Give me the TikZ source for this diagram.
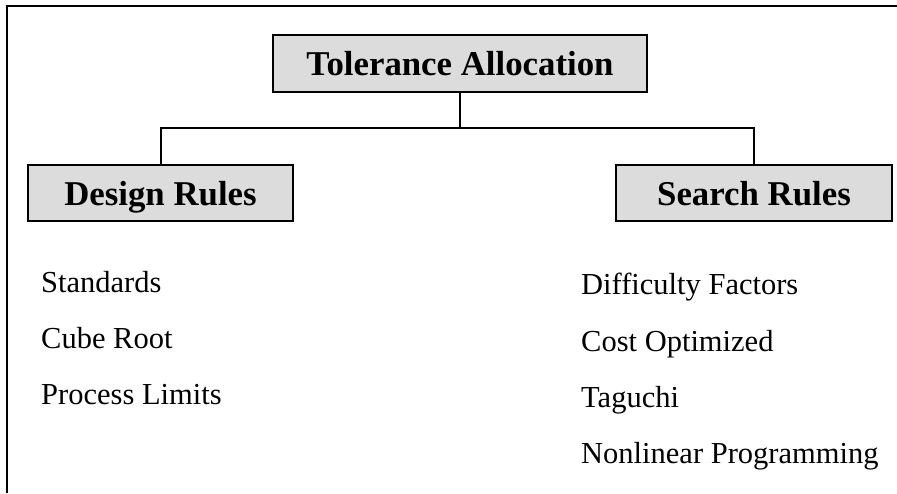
\documentclass[tikz,border=0pt]{standalone}
\usepackage{fontspec}
\setmainfont{Liberation Serif}
\begin{document}
\begin{tikzpicture}[x=1pt,y=-1pt,
  hbox/.style={draw=black, line width=2.6pt, fill=boxgray, inner sep=0pt,
    text height=24pt, text depth=0pt,
    font=\fontsize{34.8}{40}\selectfont\bfseries},
  item/.style={anchor=base west, inner sep=0pt, font=\fontsize{30.5}{36}\selectfont},
  conn/.style={line width=2pt},
  frame/.style={line width=1.4pt}]
\definecolor{boxgray}{HTML}{DCDCDC}
\useasboundingbox (0,0) rectangle (897,493);
% outer frame
\coordinate (fb) at (7,493);
\coordinate (fc) at (7,6);
\coordinate (fr) at (897,6);
\draw[frame] (fb) -- (fc) -- (fr);
% boxes
\node[hbox, minimum width=374pt, minimum height=57pt] (top) at (460,63.5) {Tolerance Allocation};
\node[hbox, minimum width=265pt, minimum height=56pt] (design) at (160.5,193) {Design Rules};
\node[hbox, minimum width=276pt, minimum height=56pt] (search) at (754,193) {Search Rules};
% connectors
\coordinate (j) at (top.south |- 0,128);
\draw[conn] (top.south) -- (j);
\draw[conn] (design.north) |- (j) -| (search.north);
% items
\node[item] (s1) at (41,292) {Standards};
\node[item] (s2) at (41,348) {Cube Root};
\node[item] (s3) at (41,404) {Process Limits};
\node[item] (r1) at (581,294) {Difficulty Factors};
\node[item] (r2) at (581,351) {Cost Optimized};
\node[item] (r3) at (581,407) {Taguchi};
\node[item] (r4) at (581,463) {Nonlinear Programming};
\end{tikzpicture}
\end{document}
